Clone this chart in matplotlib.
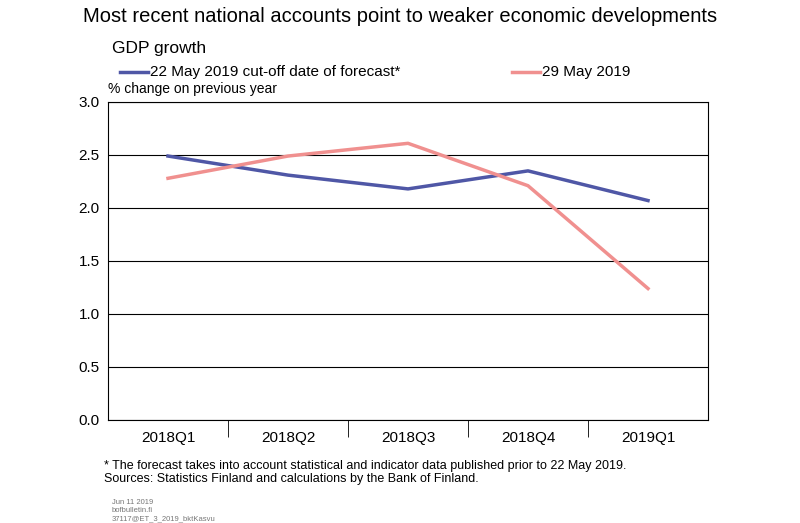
import matplotlib.pyplot as plt

quarters = ["2018Q1", "2018Q2", "2018Q3", "2018Q4", "2019Q1"]
cutoff_22may = [2.49, 2.31, 2.18, 2.35, 2.07]
update_29may = [2.28, 2.49, 2.61, 2.21, 1.24]

plt.rcParams["font.family"] = "Liberation Sans"
fig = plt.figure(figsize=(8, 5.23), dpi=100)
ax = fig.add_axes([0.135, 0.197, 0.75, 0.608])

x = range(len(quarters))
ax.plot(x, cutoff_22may, color="#4f57a6", lw=2.5)
ax.plot(x, update_29may, color="#f0908f", lw=2.5)

ax.set_xlim(-0.5, len(quarters) - 0.5)
ax.set_ylim(0, 3)
ax.set_yticks([0, 0.5, 1, 1.5, 2, 2.5, 3])
ax.set_yticklabels([f"{v:.1f}" for v in ax.get_yticks()], fontsize=11)
ax.set_xticks(list(x))
ax.set_xticklabels(quarters, fontsize=11)
ax.tick_params(axis="x", length=0, pad=8)
ax.set_xticks([i + 0.5 for i in range(len(quarters) - 1)], minor=True)
ax.tick_params(axis="x", which="minor", length=12, direction="out", color="black")
ax.tick_params(axis="y", length=0, pad=6)
ax.grid(axis="y", color="black", lw=0.8)
for s in ax.spines.values():
    s.set_color("black")
    s.set_linewidth(0.8)

fig.text(0.5, 0.958, "Most recent national accounts point to weaker economic developments",
         ha="center", fontsize=14.5)
fig.text(0.14, 0.898, "GDP growth", fontsize=12.5)
fig.text(0.135, 0.822, "% change on previous year", fontsize=10)
fig.lines.append(plt.Line2D([0.15, 0.185], [0.862, 0.862], color="#4f57a6", lw=2.5, transform=fig.transFigure))
fig.text(0.188, 0.862, "22 May 2019 cut-off date of forecast*", fontsize=11, va="center")
fig.lines.append(plt.Line2D([0.64, 0.675], [0.862, 0.862], color="#f0908f", lw=2.5, transform=fig.transFigure))
fig.text(0.678, 0.862, "29 May 2019", fontsize=11, va="center")

fig.text(0.13, 0.078, "* The forecast takes into account statistical and indicator data published prior to 22 May 2019.\n"
         "Sources: Statistics Finland and calculations by the Bank of Finland.", fontsize=9, linespacing=1.1)
fig.text(0.14, 0.005, "Jun 11 2019\nbofbulletin.fi\n37117@ET_3_2019_bktKasvu", fontsize=5.5,
         color="#777777", linespacing=1.2)

fig.savefig("out.png", dpi=100)
